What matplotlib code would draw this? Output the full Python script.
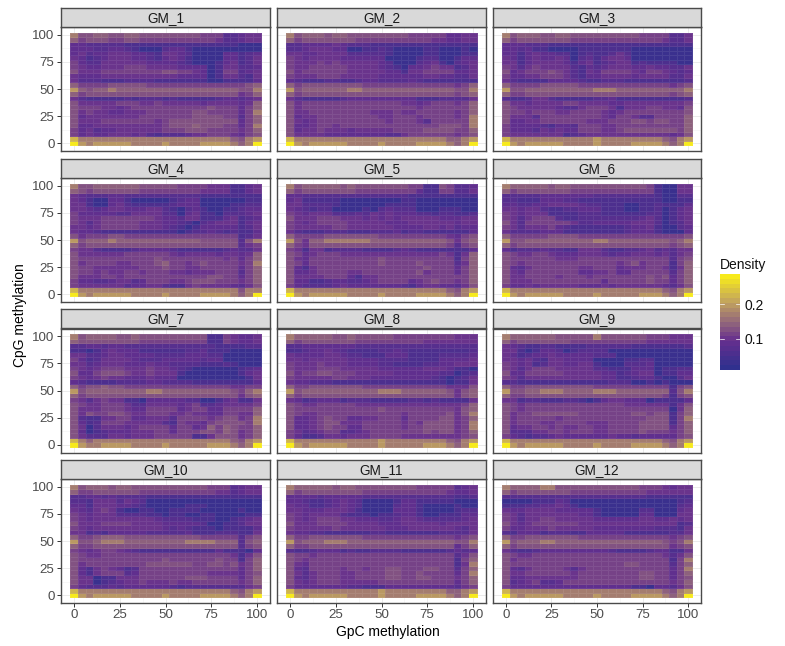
import numpy as np
import matplotlib
matplotlib.use("Agg")
import matplotlib.pyplot as plt
from matplotlib.colors import LinearSegmentedColormap, BoundaryNorm

plt.rcParams["font.family"] = ["Liberation Sans", "DejaVu Sans"]

# one character per tile, top row (CpG 100) first, left to right (GpC 0 to 100)
GM_1 = ["86677 66776 66666 66555 22344", "75666 55665 55555 55554 22344", "33222 22111 11111 11111 11000",
        "33322 33210 00233 10000 00000", "34233 44433 21443 20000 33123", "43123 44433 21343 10000 33124",
        "53224 44444 33332 10001 34124", "54334 44555 44443 33301 44223", "64445 55555 55665 54301 55234",
        "43334 44444 44443 33301 44214", "42221 11222 21111 11100 11113", "75555 66666 55555 55555 55567",
        "97677 87777 77777 77777 77668", "75666 66666 66666 66666 66457", "42111 11212 22121 11112 33234",
        "64444 45554 45444 44344 44347", "65554 43455 55555 55565 55357", "64544 33444 55555 56655 55358",
        "63444 44445 55555 56666 55257", "64445 55555 54566 66666 66357", "63344 44444 44566 67666 55358",
        "53423 34444 44555 66655 55457", "53433 44434 21222 34455 54356", "a8888 88888 88888 88888 87689",
        "b9899 99988 88988 88999 9878b"]
GM_2 = ["86777 67766 66666 65555 53344", "75666 66665 55555 55554 43344", "22333 34322 21111 11111 11111",
        "22344 43300 11210 00011 00010", "44334 44422 22210 00011 00011", "54344 44333 33300 00122 00133",
        "54445 45444 44320 00234 10234", "54455 55544 44321 03345 44124", "64555 55544 44433 14455 55334",
        "54445 55444 44333 33344 33224", "32111 22112 33222 23211 11111", "75666 66666 55555 55555 55457",
        "96777 77788 77777 77777 77668", "75666 66666 66666 66666 66567", "42111 11233 33333 33111 22224",
        "64555 55555 55555 44345 55457", "64555 55555 55555 55455 55557", "64455 55555 54445 44555 55457",
        "63445 55555 55445 55455 55458", "64345 55555 55545 55425 55558", "63345 54555 55555 55555 66658",
        "63445 44434 44445 55566 66557", "64444 33333 33322 45555 55456", "a8888 88888 88888 88888 87789",
        "b9899 99988 88988 88999 9878b"]
GM_3 = ["86777 66776 66666 66655 55224", "75666 66665 55555 55555 54224", "33322 21111 11111 11111 11111",
        "33231 10000 11111 11000 00000", "33134 33220 12112 42000 00000", "43134 33430 23134 43000 00000",
        "44134 44431 34123 44121 11100", "54245 44442 13234 44334 33224", "63455 56542 14355 55435 54323",
        "53344 55542 13344 44344 44224", "42111 13333 21122 21111 11112", "75555 66666 55555 55555 55456",
        "96677 77777 77888 77777 77778", "75566 66666 66666 66666 66567", "21124 42111 11223 11111 11112",
        "64434 44455 44443 34444 44445", "65444 44322 45554 14445 54436", "65545 55445 55543 45555 55556",
        "64442 55555 55543 55422 55557", "63344 55555 54445 55665 66557", "53333 21332 55544 55555 55557",
        "53332 43433 55544 56666 66657", "54444 44412 34444 44444 44346", "a8888 88888 88988 88888 87689",
        "b9899 99988 88988 88999 9878b"]
GM_4 = ["86677 77776 66665 55544 41134", "76566 66665 55555 55444 41134", "43222 33222 22222 22111 11111",
        "43100 33100 00012 33000 00011", "44100 34211 11123 33000 01122", "44323 44333 44210 23100 11233",
        "53333 32244 44220 34110 22234", "54445 55555 54332 44111 34123", "54245 55554 44332 10234 44134",
        "44345 55554 44321 01333 33124", "43321 11111 11110 12232 12113", "64555 66555 55555 55555 55124",
        "96777 87777 77777 77666 66268", "75666 66666 66666 66666 66245", "54421 11123 33321 11111 23224",
        "64444 44555 55543 44443 44347", "65555 55555 56555 55555 45357", "64555 54455 56755 45655 55458",
        "65544 44445 55655 44555 55357", "65545 44554 55544 34445 55257", "64445 54555 55555 55566 55357",
        "53322 34423 55544 56665 55457", "54444 44233 44211 45444 43246", "a8888 88888 88888 88888 88688",
        "b9899 99988 88988 88999 9878b"]
GM_5 = ["86777 77676 66666 65511 65223", "75666 66665 55555 55311 55224", "33222 22222 22222 21111 11111",
        "34111 11000 00000 11000 00000", "44222 21000 00011 11000 00000", "43212 20000 10232 22000 11100",
        "54344 42223 24343 33221 22112", "64445 55444 34343 44444 33344", "54345 55544 44433 34444 44344",
        "54444 45544 44443 33344 34233", "42111 22211 12223 12211 11113", "75555 66666 66555 55555 54356",
        "96477 88888 87777 77777 76467", "75466 66666 66666 66666 65256", "54144 12222 11112 32111 11113",
        "65345 55444 44444 44444 54147", "64355 55555 55655 55555 55157", "65355 55555 55655 55655 55247",
        "63145 55555 55555 55565 55357", "63345 55544 55555 55645 55357", "64444 55531 44555 55555 55557",
        "63311 23322 34555 53456 55457", "53222 23433 33333 21344 33246", "a8888 88888 88888 88888 87689",
        "b9899 99988 88988 88999 9878b"]
GM_6 = ["87777 76776 66666 66665 10044", "75666 66665 55555 55555 10044", "22222 33333 33222 22222 10022",
        "22111 33322 11111 11111 10011", "33223 34444 32211 10011 21113", "44344 21122 33311 10011 20134",
        "54344 41111 22211 11112 20134", "54245 55211 22222 22234 20134", "64255 55554 22333 33444 20124",
        "54244 45321 11111 12334 10023", "42222 33311 11111 12333 10003", "75555 56666 55555 55555 55556",
        "96677 77777 77887 77777 77678", "75666 66666 66666 66666 66567", "31222 32211 44421 12234 23244",
        "65445 54333 44432 33444 34245", "65555 55444 55555 55555 55256", "65455 55555 55555 45645 55157",
        "63245 55555 44555 34445 54147", "64355 55555 33445 33555 55257", "64455 55455 54555 55556 56357",
        "64445 55555 55535 55556 55357", "53343 44444 33343 44444 43246", "a8888 88888 88888 88888 87689",
        "b9899 99988 88988 88899 9878b"]
GM_7 = ["86777 76676 66666 66611 54334", "76666 66665 55555 55511 54334", "22332 33222 22222 22221 11122",
        "11013 43331 11111 22311 10000", "44223 44333 32222 33322 00000", "53124 44432 22333 33233 00000",
        "44234 44333 43322 22111 21000", "54345 55444 54432 10000 00123", "63356 66544 54441 00000 00134",
        "54345 44333 43330 00000 00014", "32111 12222 33222 21111 11113", "75667 66555 55555 55555 54455",
        "96777 77777 88777 77777 76578", "75666 66666 66666 66666 66467", "54245 44110 33333 22001 34114",
        "65445 55422 44443 45223 44445", "64445 55433 55553 45533 55557", "64655 66544 55544 54433 55447",
        "62114 45533 44425 55545 66458", "63125 55444 44215 44356 66658", "64024 44345 55535 53475 76557",
        "63012 33344 45535 55665 76457", "64222 44344 45555 51146 66457", "a8788 88888 88888 88888 87689",
        "b9889 99988 88988 88899 9878b"]
GM_8 = ["87777 76676 66665 55555 55444", "75666 66665 55555 55544 44444", "22333 33332 22222 22222 22222",
        "11233 43211 11223 21111 11112", "43333 44322 11133 31111 22223", "44344 44433 33222 21111 33334",
        "54445 44433 33221 11122 33444", "54445 55444 44333 33344 43110", "64556 65554 44443 33333 22012",
        "54444 45544 43333 33332 10124", "43322 21111 11111 11111 10114", "75566 66666 55555 55555 54446",
        "96777 77777 77888 77777 76467", "75666 66666 66666 66666 66467", "43123 33122 21111 12212 11114",
        "65445 55554 44444 44444 44457", "65555 55555 55655 55555 55467", "65445 55555 55555 45555 56468",
        "63345 65533 44555 35555 66457", "63345 66444 55555 45466 66458", "63345 65533 55555 45566 66458",
        "54234 55223 45555 55565 66457", "53112 44344 45555 44444 44456", "a8888 88888 88988 88888 87689",
        "b9899 99988 88988 88899 9878b"]
GM_9 = ["87777 77666 66866 66665 55444", "75666 66665 55555 55554 44444", "43211 22111 12222 22111 11112",
        "44101 33201 22220 00000 00000", "43123 34333 33222 00000 00000", "44342 14433 33000 01122 00000",
        "54341 24433 44100 02223 00000", "54245 55444 44221 11333 01122", "63355 55544 44433 12344 01133",
        "54244 44444 44433 11233 10024", "22111 11111 11112 22001 01000", "75566 66666 66555 55555 55156",
        "96677 88877 77888 77777 77268", "75566 66666 66666 66666 65156", "44122 11122 10134 43330 11113",
        "65455 55555 55555 54444 44146", "65455 55555 55555 55555 55047", "64556 66666 55555 55665 66157",
        "64555 55455 55555 55556 66158", "64555 44555 54445 55566 66157", "63445 54544 55445 55566 66357",
        "62224 45545 55445 55565 55457", "53212 23433 33334 33233 33356", "a8888 88888 88888 88888 87689",
        "b9899 99988 88988 88999 9878b"]
GM_10 = ["86777 67766 66666 66655 52344", "75566 66665 55555 55554 42344", "22332 32222 11111 11111 11111",
         "22144 42432 00000 00000 00000", "33144 43321 00000 11100 00000", "43245 41001 10011 11000 00100",
         "54344 42222 11011 00110 00011", "54344 44444 43222 21110 01234", "64445 55544 44333 33200 11244",
         "54344 44444 44323 21110 11113", "44121 33333 22222 31112 22114", "75567 77666 66666 66555 55256",
         "96678 88777 77777 88887 77267", "75566 66666 66666 66666 66256", "54345 54321 11111 11113 11103",
         "65445 55555 55555 55555 54146", "65555 55555 55655 55556 55157", "64555 55555 66666 65566 56457",
         "63145 43125 55555 55555 55357", "63145 55235 55555 55544 44356", "64401 14445 55555 66655 55357",
         "64401 23445 44454 45555 55457", "53222 32333 33321 22222 22245", "a8888 88888 88888 88888 87689",
         "b9899 99988 88988 88999 9878b"]
GM_11 = ["87777 76776 66666 66555 55234", "75666 66666 55555 55555 54334", "33332 33333 22222 22222 22112",
         "33211 23432 00001 33111 11000", "43311 23432 00002 33100 00100", "44333 44431 00003 33100 00122",
         "54344 44211 10112 33100 11133", "54345 55443 33223 44322 22234", "64445 55544 44333 44444 34444",
         "54444 45444 44433 34444 44324", "43322 11111 12211 11111 22224", "75566 66666 55555 55555 55456",
         "96777 88877 77777 77777 77668", "75566 66666 66666 66666 66357", "21123 33121 12222 11111 12323",
         "65545 55555 55555 55555 55246", "65455 55555 55555 55555 55157", "64355 55555 55555 55555 55148",
         "63255 55455 45566 55566 55257", "64245 55445 55566 55655 55358", "63245 55445 55566 55665 55457",
         "64345 55444 44555 55555 55357", "53333 33322 11133 33333 33245", "a8888 88888 88988 88888 87789",
         "b9899 99988 88988 88999 9878b"]
GM_12 = ["87777 88666 66666 66655 54344", "75666 66665 55555 55554 44444", "22222 22222 22222 22221 11111",
         "00001 11320 00000 00000 00012", "11122 33431 00000 00000 00023", "43344 44333 33100 00022 00034",
         "54244 44444 33100 00033 00044", "54244 55444 44333 33344 33434", "64345 55555 44444 44444 44412",
         "53344 45444 44333 33333 22214", "21333 12221 13333 31111 11224", "75566 66666 55555 55555 55456",
         "96777 88777 77777 77777 76568", "75666 66666 66666 66666 66456", "42112 33333 33332 11112 33114",
         "65445 55555 55555 55555 54246", "64555 55555 55555 55555 55158", "65555 55555 55555 56655 55257",
         "63245 55542 45555 55555 55358", "64455 55554 55555 55566 55357", "63344 44444 55555 55566 55356",
         "62345 22355 55555 55555 55457", "53333 33333 33333 33110 33246", "a8888 88888 88888 88888 87689",
         "b9899 99988 88988 88999 9878b"]

panels = [GM_1, GM_2, GM_3, GM_4, GM_5, GM_6, GM_7, GM_8, GM_9, GM_10, GM_11, GM_12]
names = ["GM_%d" % (i + 1) for i in range(12)]

# density that each character stands for
density = {"0": .03, "1": .055, "2": .07, "3": .082, "4": .095, "5": .11, "6": .125,
           "7": .142, "8": .168, "9": .2, "a": .225, "b": .28}
methylation = np.linspace(0, 100, 25)
ticks = [0, 25, 50, 75, 100]
minor = [12.5, 37.5, 62.5, 87.5]
legend_ticks = [0.1, 0.2]

W, H = 785, 646
cmap = LinearSegmentedColormap.from_list(
    "dens", [(0, "#30308e"), (0.3, "#672f8e"), (0.5, "#93687a"), (0.72, "#c2a35e"), (1, "#f7ea1c")], N=20)
bounds = np.linspace(0.011, 0.286, 21)
norm = BoundaryNorm(bounds, 20)


def px_axes(fig, left, top, right, bottom):
    return fig.add_axes([left / W, 1 - bottom / H, (right - left) / W, (bottom - top) / H])


def to_matrix(rows):
    return np.array([[density[c] for c in r.replace(" ", "")] for r in rows])[::-1]


fig = plt.figure(figsize=(W / 100, H / 100), dpi=100)
lefts = [61, 277, 492.5]
tops = [27, 178, 328.5, 479]
pw, ph = 209, 124
for i, rows in enumerate(panels):
    r, c = divmod(i, 3)
    x0, y0 = lefts[c], tops[r]
    ax = px_axes(fig, x0, y0, x0 + pw, y0 + ph)
    ax.set_axisbelow(True)
    ax.set_xlim(-7.29, 107.29)
    ax.set_ylim(-7.29, 107.29)
    ax.set_xticks(ticks)
    ax.set_yticks(ticks)
    ax.set_xticks(minor, minor=True)
    ax.set_yticks(minor, minor=True)
    ax.grid(True, which="major", color="#ebebeb", lw=0.7)
    ax.grid(True, which="minor", color="#f2f2f2", lw=0.4)
    ax.tick_params(which="minor", length=0)
    ax.tick_params(which="major", length=2.6, width=0.7, color="#333333", labelcolor="#4d4d4d",
                   labelsize=9.6, pad=2, labelbottom=r == 3, bottom=r == 3, labelleft=c == 0, left=c == 0)
    mesh = ax.pcolormesh(methylation, methylation, to_matrix(rows), cmap=cmap, norm=norm, shading="nearest",
                         edgecolors=(1, 1, 1, 0.08), linewidth=0.4)
    for s in ax.spines.values():
        s.set_color("#4a4a4a")
        s.set_linewidth(1.0)

    strip = px_axes(fig, x0, y0 - 19.5, x0 + pw, y0 - 0.5)
    strip.set_facecolor("#d9d9d9")
    strip.set_xticks([])
    strip.set_yticks([])
    for s in strip.spines.values():
        s.set_color("#4a4a4a")
        s.set_linewidth(1.0)
    strip.text(0.5, 0.47, names[i], transform=strip.transAxes, ha="center", va="center",
               fontsize=9.8, color="#1a1a1a")

fig.text(388 / W, 1 - 632 / H, "GpC methylation", ha="center", va="center", fontsize=10)
fig.text(20 / W, 1 - 315 / H, "CpG methylation", ha="center", va="center", rotation=90, fontsize=10)

# legend
cax = px_axes(fig, 720, 274, 740, 370)
centers = (bounds[:-1] + bounds[1:]) / 2
cax.pcolormesh([0, 1], bounds, centers[:, None], cmap=cmap, norm=norm)
cax.set_xlim(0, 1)
cax.set_ylim(bounds[0], bounds[-1])
cax.set_xticks([])
cax.yaxis.tick_right()
cax.set_yticks(legend_ticks, ["0.1", "0.2"])
cax.tick_params(axis="y", length=0, labelsize=10, pad=3.5, labelcolor="#111111")
for v in legend_ticks:
    cax.plot([0, 0.2], [v, v], color="white", lw=0.5)
    cax.plot([0.8, 1], [v, v], color="white", lw=0.5)
for s in cax.spines.values():
    s.set_visible(False)
fig.text(720 / W, 1 - 265 / H, "Density", ha="left", va="center", fontsize=10, color="#111111")

fig.savefig("out.png", dpi=100)
